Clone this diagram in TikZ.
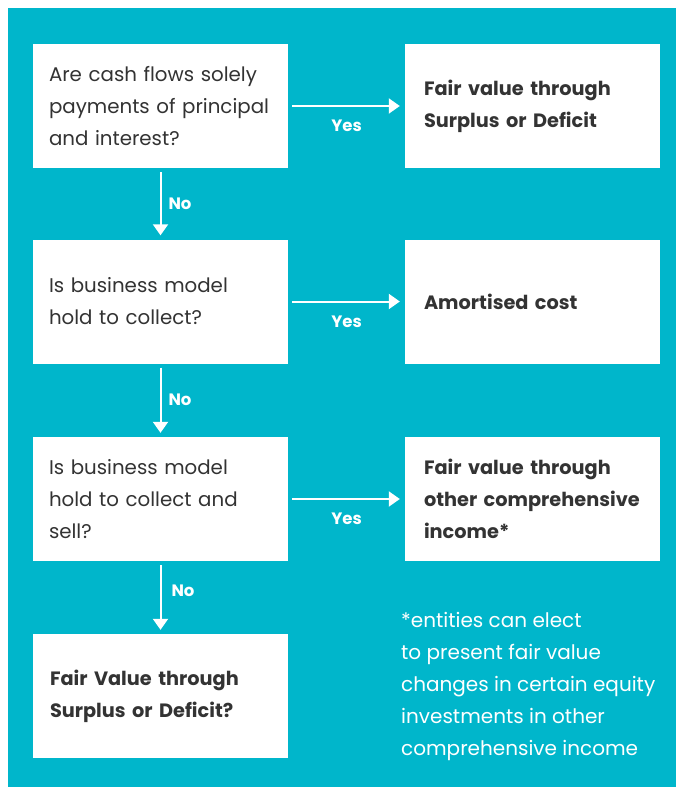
\documentclass[tikz,border=0pt]{standalone}
\usepackage{fontspec}
\setmainfont{Poppins}
\usetikzlibrary{arrows.meta}
\definecolor{teal}{HTML}{00B6CB}
\definecolor{ink}{HTML}{333333}
\tikzset{%
    qbox/.style={fill=white,text=ink,minimum width=255pt,minimum height=124pt,
        inner xsep=16pt,text width=223pt,align=left,font=\fontsize{19.8}{32}\selectfont},
    abox/.style={qbox,inner xsep=19pt,text width=217pt,font=\fontsize{19.3}{32}\selectfont\bfseries},
    flow/.style={white,line width=2pt,-{Triangle[width=15pt,length=11pt]}},
    lbl/.style={white,inner sep=0pt,font=\fontsize{16.5}{18}\selectfont\bfseries}
}

\begin{document}
\begin{tikzpicture}[x=1pt,y=-1pt]
        \useasboundingbox (0,0) rectangle (676,787);
        \fill[teal] (8,8) rectangle (676,787);
        % questions on the left, outcomes on the right
        \node[qbox] (q1) at (160.5,106){Are cash flows solely\\payments of principal\\and interest?};
        \node[qbox] (q2) at (160.5,301.5){Is business model\\hold to collect?};
        \node[qbox] (q3) at (160.5,499){Is business model\\hold to collect and\\sell?};
        \node[abox,inner xsep=17pt,text width=221pt] (q4) at (160.5,696){Fair Value through\\Surplus or Deficit?};
        \node[abox] (r1) at (532.5,106){Fair value through\\Surplus or Deficit};
        \node[abox] (r2) at (532.5,301.5){Amortised cost};
        \node[abox] (r3) at (532.5,499){Fair value through\\other comprehensive\\income*};
        \node[anchor=north west,white,inner sep=0pt,align=left,
            font=\fontsize{20}{32}\selectfont] (note) at (401,612)
            {*entities can elect\\to present fair value\\changes in certain equity\\investments in other\\comprehensive income};
        \foreach \i in {1,2,3}{
            \draw[flow,shorten <=4pt,shorten >=5pt] (q\i.east) -- (r\i.west)
                node[lbl,midway,below=13pt]{Yes};
        }
        \foreach \i/\j/\dx/\dy in {1/2/0/0,2/3/0/0,3/4/3/-7}{
            \draw[flow,shorten <=4pt,shorten >=4pt] (q\i.south) -- (q\j.north)
                node[lbl,midway,right=7pt,xshift=\dx,yshift=-\dy]{No};
        }
    \end{tikzpicture}
\end{document}
